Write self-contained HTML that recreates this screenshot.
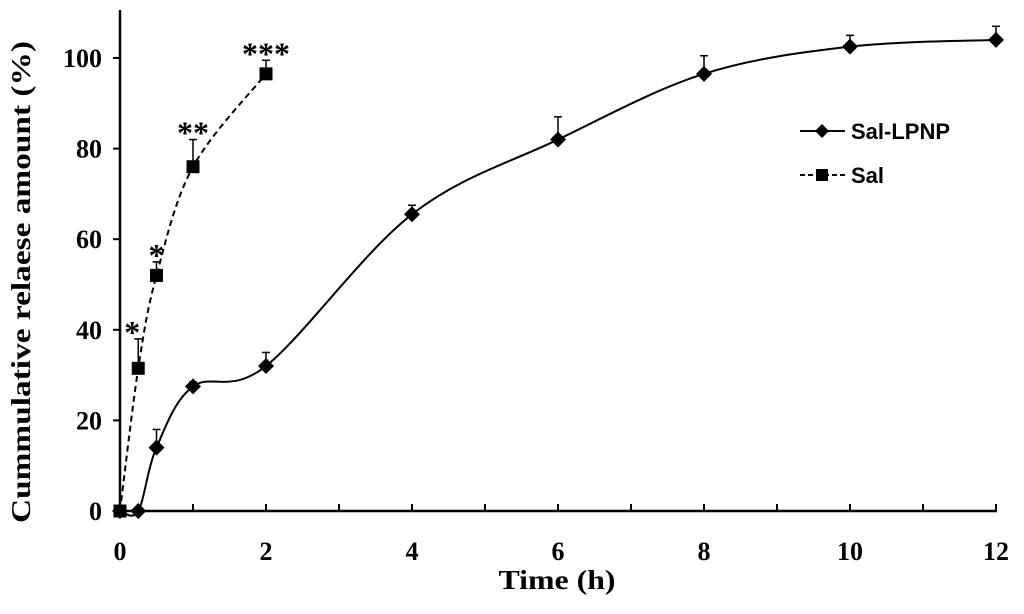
<!DOCTYPE html>
<html><head><meta charset="utf-8"><style>
body{margin:0;background:#fff}
svg text{font-family:"Liberation Serif",serif;font-weight:bold;fill:#000}
svg text.sans{font-family:"Liberation Sans",sans-serif}
</style></head><body>
<svg id="chart" width="1024" height="609" viewBox="0 0 1024 609" xmlns="http://www.w3.org/2000/svg">
<g id="axes"></g>
<g id="series"></g>
<text x="557" y="589" font-size="27" text-anchor="middle" textLength="117" lengthAdjust="spacingAndGlyphs">Time (h)</text>
<text transform="translate(30,282) rotate(-90)" font-size="27" text-anchor="middle" textLength="482" lengthAdjust="spacingAndGlyphs">Cummulative relaese amount (%)</text>
<g>
<g>
<line x1="800" y1="131" x2="845" y2="131" stroke="#000" stroke-width="2"/>
<path d="M822,124 L829,131 L822,138 L815,131Z" fill="#000"/>
<text class="sans" x="851" y="139" font-size="22">Sal-LPNP</text></g>
<g>
<line x1="800" y1="175" x2="845" y2="175" stroke="#000" stroke-width="2" stroke-dasharray="5,3"/>
<rect x="816" y="169" width="12" height="12" fill="#000"/>
<text class="sans" x="851" y="183" font-size="22">Sal</text></g>
</g>
</svg>
<script>
const xTicks=[0,2,4,6,8,10,12];
const yTicks=[0,20,40,60,80,100];
const lpnpT=[0,0.25,0.5,1,2,4,6,8,10,12];
const lpnpV=[0,0,14,27.5,32,65.5,82,96.5,102.5,104];
const lpnpE=[0,0,4,1,3,2,5,4,2.5,3];
const salT=[0,0.25,0.5,1,2];
const salV=[0,31.5,52,76,96.5];
const salE=[0,6.5,3,6,3];
const stars=["","*","*","**","***"];
const X=t=>120+t*73.0, Y=v=>511-v*4.53;
const NS="http://www.w3.org/2000/svg";
const ax=document.getElementById('axes'), se=document.getElementById('series');
function mk(tag,at,p){const e=document.createElementNS(NS,tag);for(const k in at)e.setAttribute(k,at[k]);p.appendChild(e);return e;}
let l=mk('line',{x1:120,y1:10,x2:120,y2:512,stroke:'#000','stroke-width':2.5},ax);


l=mk('line',{x1:119,y1:511,x2:997,y2:511,stroke:'#000','stroke-width':2.5},ax);


for(let t=1;t<=12;t++){mk('line',{x1:X(t),y1:511,x2:X(t),y2:504,stroke:'#000','stroke-width':2},ax);}
xTicks.forEach(t=>{const e=mk('text',{x:X(t),y:560,'font-size':26,'text-anchor':'middle'},ax);e.textContent=t;

});
yTicks.forEach(v=>{mk('line',{x1:113,y1:Y(v),x2:120,y2:Y(v),stroke:'#000','stroke-width':2},ax);
const e=mk('text',{x:102,y:Y(v)+9,'font-size':26,'text-anchor':'end'},ax);e.textContent=v;

});
function spline(ts,vs){const p=ts.map((t,i)=>[X(t),Y(vs[i])]);let d=`M${p[0]}`;
for(let i=0;i<p.length-1;i++){const p0=p[Math.max(i-1,0)],p1=p[i],p2=p[i+1],p3=p[Math.min(i+2,p.length-1)];
const c1=[p1[0]+(p2[0]-p0[0])/6,p1[1]+(p2[1]-p0[1])/6],c2=[p2[0]-(p3[0]-p1[0])/6,p2[1]-(p3[1]-p1[1])/6];
d+=` C${c1} ${c2} ${p2}`;}return d;}
l=mk('path',{d:spline(lpnpT,lpnpV),fill:'none',stroke:'#000','stroke-width':2},se);


l=mk('path',{d:spline(salT,salV),fill:'none',stroke:'#000','stroke-width':2,'stroke-dasharray':'6,4'},se);


function err(t,v,e){if(!e)return;const x=X(t),y=Y(v+e);mk('line',{x1:x,y1:Y(v),x2:x,y2:y,stroke:'#000','stroke-width':1.5},se);mk('line',{x1:x-4,y1:y,x2:x+4,y2:y,stroke:'#000','stroke-width':1.5},se);}
lpnpT.forEach((t,i)=>{err(t,lpnpV[i],lpnpE[i]);const x=X(t),y=Y(lpnpV[i]);
const m=mk('path',{d:`M${x},${y-8} L${x+8},${y} L${x},${y+8} L${x-8},${y}Z`,fill:'#000'},se);

});
salT.forEach((t,i)=>{err(t,salV[i],salE[i]);const x=X(t),y=Y(salV[i]);
const m=mk('rect',{x:x-6.5,y:y-6.5,width:13,height:13,fill:'#000'},se);


if(stars[i]){const s=mk('text',{x:x-(i==1?6:0),y:Y(salV[i]+salE[i])+4,'font-size':32,'text-anchor':'middle'},se);s.textContent=stars[i];

}});
</script>
</body></html>
